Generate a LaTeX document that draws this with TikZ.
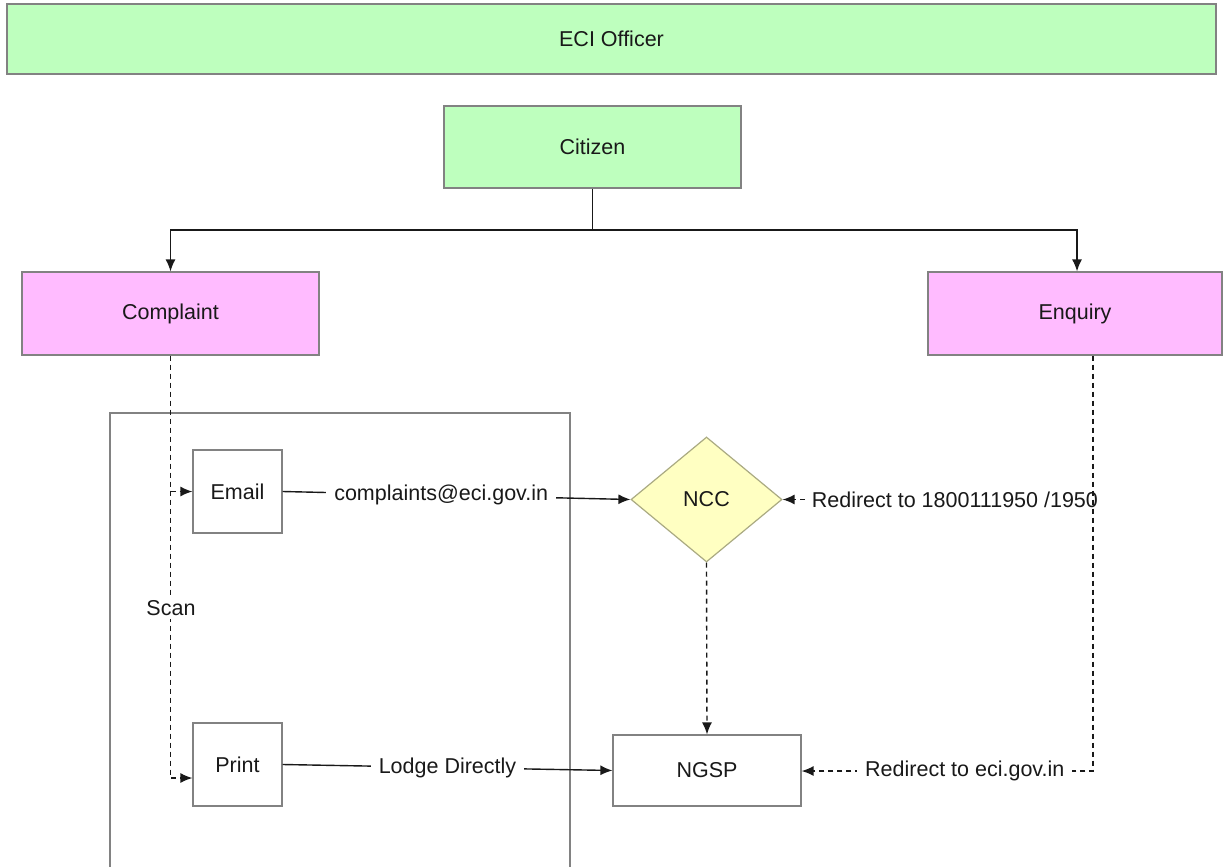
\documentclass[tikz,border=0pt]{standalone}
\usepackage{fontspec}
\setmainfont{Liberation Sans}
\usetikzlibrary{shapes.geometric,arrows.meta}
\definecolor{boxgreen}{RGB}{190,255,190}
\definecolor{boxpink}{RGB}{255,187,255}
\definecolor{boxyellow}{RGB}{255,255,194}
\definecolor{edgegrey}{RGB}{130,130,130}
\definecolor{diagrey}{RGB}{170,170,130}
\definecolor{txt}{RGB}{25,25,25}
\begin{document}
\begin{tikzpicture}[x=1pt,y=-1pt,
  every node/.style={font=\fontsize{21.5}{25}\selectfont, text=txt},
  box/.style={draw=edgegrey, line width=1.2pt, inner sep=0pt},
  arr/.style={line width=1.4pt, draw=black!90, -{Latex[length=12pt,width=10pt]}},
  dsh/.style={dash pattern=on 5pt off 4pt, line width=1.4pt},
  lbl/.style={fill=white, inner xsep=8pt, inner ysep=3pt}]
\useasboundingbox (0,0) rectangle (1223,867);
\fill[white] (0,0) rectangle (1223,867);

% boxes
\node[box, fill=boxgreen, minimum width=1209pt, minimum height=70pt] (eci) at (611.5,39) {ECI Officer};
\node[box, fill=boxgreen, minimum width=297pt, minimum height=82pt] (cit) at (592.5,147) {Citizen};
\node[box, fill=boxpink, minimum width=297pt, minimum height=83pt] (comp) at (170.5,313.5) {Complaint};
\node[box, fill=boxpink, minimum width=294pt, minimum height=83pt] (enq) at (1075,313.5) {Enquiry};
\draw[edgegrey, line width=1.2pt] (110,870) -- (110,413) -- (570,413) -- (570,870);
\node[box, fill=white, minimum width=89pt, minimum height=83pt] (email) at (237.5,491.5) {Email};
\node[box, fill=white, minimum width=89pt, minimum height=83pt] (print) at (237.5,764.5) {Print};
\node[box, diamond, draw=diagrey, fill=boxyellow, minimum width=151pt, minimum height=125pt] (ncc) at (706.5,499.5) {NCC};
\node[box, fill=white, minimum width=188pt, minimum height=71pt] (ngsp) at (707,770.5) {NGSP};

% citizen split
\coordinate (split) at (592.5,230);
\draw[arr] (cit.south) -- (split) -| (comp.north);
\draw[arr] (split) -| ([xshift=2pt]enq.north);

% complaint branch
\coordinate (cemail) at (comp.south |- email.west);
\coordinate (cprint) at (170.5,778);
\draw[arr, dsh] (comp.south) -- (cprint) -- (print.west |- cprint);
\draw[arr, dsh] (cemail) -- (email.west);
\node[lbl] (scan) at (171,608) {Scan};

\draw[arr] (email.east) -- node[lbl, pos=0.456] {complaints@eci.gov.in} (ncc.west);
\draw[arr] (print.east) -- node[lbl, pos=0.5] {Lodge Directly} (ngsp.west);
\draw[arr, dsh] (ncc.south) -- (ngsp.north);

% enquiry branch
\coordinate (en) at (1093,499.5);
\coordinate (eb) at (1093,771);
\draw[arr, dsh] (en) -- node[lbl, inner xsep=3pt, pos=0.445] {Redirect to 1800111950 /1950} (ncc.east);
\draw[arr, dsh] ([xshift=18pt]enq.south) -- (eb) -- node[lbl, pos=0.44] {Redirect to eci.gov.in} (ngsp.east |- eb);
\end{tikzpicture}
\end{document}
